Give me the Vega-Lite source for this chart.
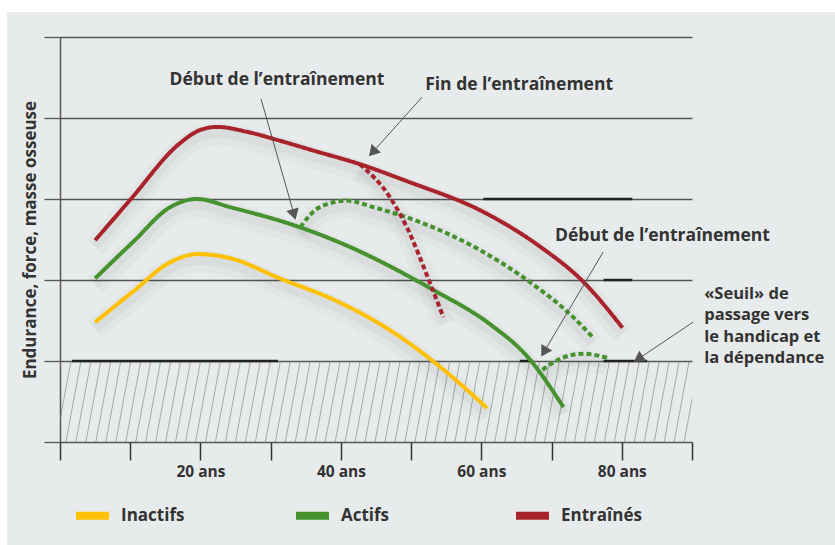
{
  "$schema": "https://vega.github.io/schema/vega-lite/v6.json",
  "width": 632,
  "height": 405,
  "autosize": "none",
  "padding": {"left": 60, "top": 37, "right": 143, "bottom": 103},
  "background": "#e8ebec",
  "config": {
    "view": {"stroke": null},
    "font": "Open Sans",
    "text": {"font": "Open Sans"}
  },
  "datasets": {
    "curves": [
      {"s": "Inactifs", "id": "inactifs", "dash": "solid", "x": 5.0, "y": 1.48},
      {"s": "Inactifs", "id": "inactifs", "dash": "solid", "x": 10.3, "y": 1.85},
      {"s": "Inactifs", "id": "inactifs", "dash": "solid", "x": 15.7, "y": 2.22},
      {"s": "Inactifs", "id": "inactifs", "dash": "solid", "x": 19.7, "y": 2.32},
      {"s": "Inactifs", "id": "inactifs", "dash": "solid", "x": 24.2, "y": 2.27},
      {"s": "Inactifs", "id": "inactifs", "dash": "solid", "x": 31.3, "y": 2.02},
      {"s": "Inactifs", "id": "inactifs", "dash": "solid", "x": 39.9, "y": 1.72},
      {"s": "Inactifs", "id": "inactifs", "dash": "solid", "x": 47.0, "y": 1.38},
      {"s": "Inactifs", "id": "inactifs", "dash": "solid", "x": 54.1, "y": 0.93},
      {"s": "Inactifs", "id": "inactifs", "dash": "solid", "x": 60.8, "y": 0.42},
      {"s": "Actifs", "id": "actifs", "dash": "solid", "x": 5.0, "y": 2.02},
      {"s": "Actifs", "id": "actifs", "dash": "solid", "x": 10.4, "y": 2.47},
      {"s": "Actifs", "id": "actifs", "dash": "solid", "x": 15.7, "y": 2.9},
      {"s": "Actifs", "id": "actifs", "dash": "solid", "x": 19.5, "y": 3.0},
      {"s": "Actifs", "id": "actifs", "dash": "solid", "x": 24.2, "y": 2.9},
      {"s": "Actifs", "id": "actifs", "dash": "solid", "x": 34.2, "y": 2.65},
      {"s": "Actifs", "id": "actifs", "dash": "solid", "x": 39.9, "y": 2.46},
      {"s": "Actifs", "id": "actifs", "dash": "solid", "x": 53.1, "y": 1.88},
      {"s": "Actifs", "id": "actifs", "dash": "solid", "x": 61.3, "y": 1.45},
      {"s": "Actifs", "id": "actifs", "dash": "solid", "x": 66.5, "y": 1.06},
      {"s": "Actifs", "id": "actifs", "dash": "solid", "x": 71.7, "y": 0.43},
      {"s": "Actifs", "id": "actifs2", "dash": "dash", "x": 34.2, "y": 2.65},
      {"s": "Actifs", "id": "actifs2", "dash": "dash", "x": 37.0, "y": 2.9},
      {"s": "Actifs", "id": "actifs2", "dash": "dash", "x": 40.9, "y": 2.98},
      {"s": "Actifs", "id": "actifs2", "dash": "dash", "x": 44.6, "y": 2.9},
      {"s": "Actifs", "id": "actifs2", "dash": "dash", "x": 51.7, "y": 2.7},
      {"s": "Actifs", "id": "actifs2", "dash": "dash", "x": 59.8, "y": 2.37},
      {"s": "Actifs", "id": "actifs2", "dash": "dash", "x": 66.5, "y": 2.0},
      {"s": "Actifs", "id": "actifs2", "dash": "dash", "x": 73.1, "y": 1.54},
      {"s": "Actifs", "id": "actifs2", "dash": "dash", "x": 75.8, "y": 1.3},
      {"s": "Actifs", "id": "actifs3", "dash": "dash", "x": 68.7, "y": 0.89},
      {"s": "Actifs", "id": "actifs3", "dash": "dash", "x": 70.8, "y": 1.01},
      {"s": "Actifs", "id": "actifs3", "dash": "dash", "x": 74.5, "y": 1.09},
      {"s": "Actifs", "id": "actifs3", "dash": "dash", "x": 77.9, "y": 1.04},
      {"s": "Entraînés", "id": "entraines", "dash": "solid", "x": 5.0, "y": 2.49},
      {"s": "Entraînés", "id": "entraines", "dash": "solid", "x": 10.0, "y": 2.99},
      {"s": "Entraînés", "id": "entraines", "dash": "solid", "x": 17.1, "y": 3.69},
      {"s": "Entraînés", "id": "entraines", "dash": "solid", "x": 19.9, "y": 3.85},
      {"s": "Entraînés", "id": "entraines", "dash": "solid", "x": 22.4, "y": 3.89},
      {"s": "Entraînés", "id": "entraines", "dash": "solid", "x": 26.6, "y": 3.83},
      {"s": "Entraînés", "id": "entraines", "dash": "solid", "x": 31.3, "y": 3.72},
      {"s": "Entraînés", "id": "entraines", "dash": "solid", "x": 36.0, "y": 3.6},
      {"s": "Entraînés", "id": "entraines", "dash": "solid", "x": 42.7, "y": 3.43},
      {"s": "Entraînés", "id": "entraines", "dash": "solid", "x": 49.4, "y": 3.22},
      {"s": "Entraînés", "id": "entraines", "dash": "solid", "x": 60.3, "y": 2.84},
      {"s": "Entraînés", "id": "entraines", "dash": "solid", "x": 68.4, "y": 2.41},
      {"s": "Entraînés", "id": "entraines", "dash": "solid", "x": 74.5, "y": 1.98},
      {"s": "Entraînés", "id": "entraines", "dash": "solid", "x": 80.1, "y": 1.41},
      {"s": "Entraînés", "id": "entraines2", "dash": "dash", "x": 42.7, "y": 3.43},
      {"s": "Entraînés", "id": "entraines2", "dash": "dash", "x": 47.0, "y": 3.02},
      {"s": "Entraînés", "id": "entraines2", "dash": "dash", "x": 49.4, "y": 2.65},
      {"s": "Entraînés", "id": "entraines2", "dash": "dash", "x": 52.7, "y": 1.96},
      {"s": "Entraînés", "id": "entraines2", "dash": "dash", "x": 54.6, "y": 1.54}
    ],
    "hatch": [
      {"x": -2.0, "xt": 0.14, "y": 0, "yt": 1}, {"x": -0.58, "xt": 1.56, "y": 0, "yt": 1}, {"x": 0.84, "xt": 2.98, "y": 0, "yt": 1}, {"x": 2.26, "xt": 4.4, "y": 0, "yt": 1}, {"x": 3.68, "xt": 5.82, "y": 0, "yt": 1},
      {"x": 5.1, "xt": 7.24, "y": 0, "yt": 1}, {"x": 6.52, "xt": 8.66, "y": 0, "yt": 1}, {"x": 7.94, "xt": 10.08, "y": 0, "yt": 1}, {"x": 9.36, "xt": 11.5, "y": 0, "yt": 1}, {"x": 10.78, "xt": 12.92, "y": 0, "yt": 1},
      {"x": 12.2, "xt": 14.34, "y": 0, "yt": 1}, {"x": 13.62, "xt": 15.76, "y": 0, "yt": 1}, {"x": 15.04, "xt": 17.18, "y": 0, "yt": 1}, {"x": 16.46, "xt": 18.6, "y": 0, "yt": 1}, {"x": 17.88, "xt": 20.02, "y": 0, "yt": 1},
      {"x": 19.3, "xt": 21.44, "y": 0, "yt": 1}, {"x": 20.72, "xt": 22.86, "y": 0, "yt": 1}, {"x": 22.14, "xt": 24.28, "y": 0, "yt": 1}, {"x": 23.56, "xt": 25.7, "y": 0, "yt": 1}, {"x": 24.98, "xt": 27.12, "y": 0, "yt": 1},
      {"x": 26.4, "xt": 28.54, "y": 0, "yt": 1}, {"x": 27.82, "xt": 29.96, "y": 0, "yt": 1}, {"x": 29.24, "xt": 31.38, "y": 0, "yt": 1}, {"x": 30.66, "xt": 32.8, "y": 0, "yt": 1}, {"x": 32.08, "xt": 34.22, "y": 0, "yt": 1},
      {"x": 33.5, "xt": 35.64, "y": 0, "yt": 1}, {"x": 34.92, "xt": 37.06, "y": 0, "yt": 1}, {"x": 36.34, "xt": 38.48, "y": 0, "yt": 1}, {"x": 37.76, "xt": 39.9, "y": 0, "yt": 1}, {"x": 39.18, "xt": 41.32, "y": 0, "yt": 1},
      {"x": 40.6, "xt": 42.74, "y": 0, "yt": 1}, {"x": 42.02, "xt": 44.16, "y": 0, "yt": 1}, {"x": 43.44, "xt": 45.58, "y": 0, "yt": 1}, {"x": 44.86, "xt": 47.0, "y": 0, "yt": 1}, {"x": 46.28, "xt": 48.42, "y": 0, "yt": 1},
      {"x": 47.7, "xt": 49.84, "y": 0, "yt": 1}, {"x": 49.12, "xt": 51.26, "y": 0, "yt": 1}, {"x": 50.54, "xt": 52.68, "y": 0, "yt": 1}, {"x": 51.96, "xt": 54.1, "y": 0, "yt": 1}, {"x": 53.38, "xt": 55.52, "y": 0, "yt": 1},
      {"x": 54.8, "xt": 56.94, "y": 0, "yt": 1}, {"x": 56.22, "xt": 58.36, "y": 0, "yt": 1}, {"x": 57.64, "xt": 59.78, "y": 0, "yt": 1}, {"x": 59.06, "xt": 61.2, "y": 0, "yt": 1}, {"x": 60.48, "xt": 62.62, "y": 0, "yt": 1},
      {"x": 61.9, "xt": 64.04, "y": 0, "yt": 1}, {"x": 63.32, "xt": 65.46, "y": 0, "yt": 1}, {"x": 64.74, "xt": 66.88, "y": 0, "yt": 1}, {"x": 66.16, "xt": 68.3, "y": 0, "yt": 1}, {"x": 67.58, "xt": 69.72, "y": 0, "yt": 1},
      {"x": 69.0, "xt": 71.14, "y": 0, "yt": 1}, {"x": 70.42, "xt": 72.56, "y": 0, "yt": 1}, {"x": 71.84, "xt": 73.98, "y": 0, "yt": 1}, {"x": 73.26, "xt": 75.4, "y": 0, "yt": 1}, {"x": 74.68, "xt": 76.82, "y": 0, "yt": 1},
      {"x": 76.1, "xt": 78.24, "y": 0, "yt": 1}, {"x": 77.52, "xt": 79.66, "y": 0, "yt": 1}, {"x": 78.94, "xt": 81.08, "y": 0, "yt": 1}, {"x": 80.36, "xt": 82.5, "y": 0, "yt": 1}, {"x": 81.78, "xt": 83.92, "y": 0, "yt": 1},
      {"x": 83.2, "xt": 85.34, "y": 0, "yt": 1}, {"x": 84.62, "xt": 86.76, "y": 0, "yt": 1}, {"x": 86.04, "xt": 88.18, "y": 0, "yt": 1}, {"x": 87.46, "xt": 89.6, "y": 0, "yt": 1}, {"x": 88.88, "xt": 91.02, "y": 0, "yt": 1}
    ],
    "segments": [
      {"x": 1.7, "x2": 31.05, "y": 1},
      {"x": 65.5, "x2": 67.4, "y": 1},
      {"x": 77.4, "x2": 83.6, "y": 1},
      {"x": 60.3, "x2": 81.5, "y": 3},
      {"x": 77.4, "x2": 81.5, "y": 2}
    ],
    "arrows": [
      {"x": 28.63, "y": 4.235, "x2": 33.26, "y2": 2.831, "a": 164.1},
      {"x": 51.57, "y": 4.259, "x2": 44.69, "y2": 3.594, "a": 221.9},
      {"x": 77.35, "y": 2.346, "x2": 69.06, "y2": 1.132, "a": 210.6},
      {"x": 90.17, "y": 1.481, "x2": 82.56, "y2": 1.038, "a": 236.1}
    ],
    "labels": [
      {"x": 30.9, "y": 4.47, "t": "Début de l’entraînement", "al": "center"},
      {"x": 52.0, "y": 4.41, "t": "Fin de l’entraînement", "al": "left"},
      {"x": 70.5, "y": 2.54, "t": "Début de l’entraînement", "al": "left"},
      {"x": 91.74, "y": 1.827, "t": "«Seuil» de", "al": "block"},
      {"x": 91.74, "y": 1.564, "t": "passage vers", "al": "block"},
      {"x": 91.74, "y": 1.299, "t": "le handicap et", "al": "block"},
      {"x": 91.74, "y": 1.037, "t": "la dépendance", "al": "block"}
    ],
    "bands": [
      {"x": -9.0, "x2": 111.0, "y": 5.309, "y2": 5.6},
      {"x": -9.0, "x2": -7.55, "y": -1.4, "y2": 5.6}
    ]
  },
  "encoding": {
    "x": {
      "field": "x",
      "type": "quantitative",
      "scale": {"domain": [0, 90], "nice": false, "zero": false},
      "axis": {
        "values": [0, 10, 20, 30, 40, 50, 60, 70, 80, 90],
        "labelExpr": "datum.value % 20 == 0 && datum.value > 0 ? datum.value + ' ans' : ''",
        "domain": false,
        "grid": false,
        "ticks": true,
        "tickSize": 18,
        "tickColor": "#333333",
        "tickWidth": 1.5,
        "labelPadding": 4,
        "labelFont": "Open Sans",
        "labelFontSize": 15.5,
        "labelFontWeight": "bold",
        "labelColor": "#333333",
        "title": null
      }
    },
    "y": {
      "field": "y",
      "type": "quantitative",
      "scale": {"domain": [0, 5], "nice": false, "zero": false},
      "axis": {
        "values": [0, 1, 2, 3, 4, 5],
        "labels": false,
        "domain": true,
        "domainColor": "#555555",
        "domainWidth": 1.5,
        "grid": true,
        "gridColor": "#555555",
        "gridWidth": 1.3,
        "gridOpacity": 1,
        "ticks": true,
        "tickSize": 16,
        "tickColor": "#555555",
        "tickWidth": 1.3,
        "title": "Endurance, force, masse osseuse",
        "titleFont": "Open Sans",
        "titleFontSize": 17,
        "titleFontWeight": "bold",
        "titleColor": "#333333",
        "titlePadding": 4
      }
    }
  },
  "layer": [
    {
      "data": {"name": "bands"},
      "mark": {"type": "rect", "fill": "#ffffff", "clip": false},
      "encoding": {"x2": {"field": "x2"}, "y2": {"field": "y2"}}
    },
    {
      "data": {"name": "hatch"},
      "mark": {"type": "rule", "color": "#7a7a7a", "strokeWidth": 0.6, "clip": true},
      "encoding": {
        "x2": {"field": "xt"},
        "y2": {"field": "yt"}
      }
    },
    {
      "data": {"name": "segments"},
      "mark": {"type": "rule", "color": "#222222", "strokeWidth": 2.5},
      "encoding": {"x2": {"field": "x2"}}
    },
    {
      "data": {"name": "curves"},
      "mark": {"type": "line", "interpolate": "monotone", "color": "#000000", "opacity": 0.025, "strokeWidth": 22, "yOffset": 7},
      "encoding": {"detail": {"field": "id"}}
    },
    {
      "data": {"name": "curves"},
      "mark": {"type": "line", "interpolate": "monotone", "color": "#000000", "opacity": 0.03, "strokeWidth": 10, "yOffset": 6},
      "encoding": {"detail": {"field": "id"}}
    },
    {
      "data": {"name": "curves"},
      "mark": {"type": "line", "interpolate": "monotone", "strokeWidth": 4},
      "encoding": {
        "color": {
          "field": "s",
          "type": "nominal",
          "scale": {"domain": ["Inactifs", "Actifs", "Entraînés"], "range": ["#ffc000", "#46922f", "#a8232b"]},
          "legend": {
            "orient": "none",
            "legendX": 12,
            "legendY": 458,
            "direction": "horizontal",
            "title": null,
            "symbolType": "stroke",
            "symbolSize": 1089,
            "symbolStrokeWidth": 8,
            "labelOffset": 8,
            "gridAlign": "all",
            "columnPadding": 78,
            "labelFont": "Open Sans",
            "labelFontSize": 17,
            "labelFontWeight": "bold",
            "labelColor": "#333333"
          }
        },
        "strokeDash": {
          "field": "dash",
          "type": "nominal",
          "scale": {"domain": ["solid", "dash"], "range": [[1, 0], [5, 3]]},
          "legend": null
        },
        "detail": {"field": "id"}
      }
    },
    {
      "data": {"name": "arrows"},
      "mark": {"type": "rule", "color": "#555555", "strokeWidth": 1, "clip": false},
      "encoding": {"x2": {"field": "x2"}, "y2": {"field": "y2"}}
    },
    {
      "data": {"name": "arrows"},
      "mark": {"type": "point", "shape": "triangle", "filled": true, "color": "#555555", "opacity": 1, "size": 160, "clip": false},
      "encoding": {
        "x": {"field": "x2", "type": "quantitative"},
        "y": {"field": "y2", "type": "quantitative"},
        "angle": {"field": "a", "type": "quantitative", "scale": null}
      }
    },
    {
      "data": {"name": "labels"},
      "transform": [{"filter": "datum.al == 'center'"}],
      "mark": {"type": "text", "align": "center", "font": "Open Sans", "fontSize": 17.5, "fontWeight": "bold", "color": "#333333", "baseline": "middle", "clip": false},
      "encoding": {"text": {"field": "t"}}
    },
    {
      "data": {"name": "labels"},
      "transform": [{"filter": "datum.al == 'left'"}],
      "mark": {"type": "text", "align": "left", "font": "Open Sans", "fontSize": 17.5, "fontWeight": "bold", "color": "#333333", "baseline": "middle", "clip": false},
      "encoding": {"text": {"field": "t"}}
    },
    {
      "data": {"name": "labels"},
      "transform": [{"filter": "datum.al == 'block'"}],
      "mark": {"type": "text", "align": "left", "font": "Open Sans", "fontSize": 16.5, "fontWeight": "bold", "color": "#333333", "baseline": "middle", "clip": false},
      "encoding": {"text": {"field": "t"}}
    }
  ]
}
